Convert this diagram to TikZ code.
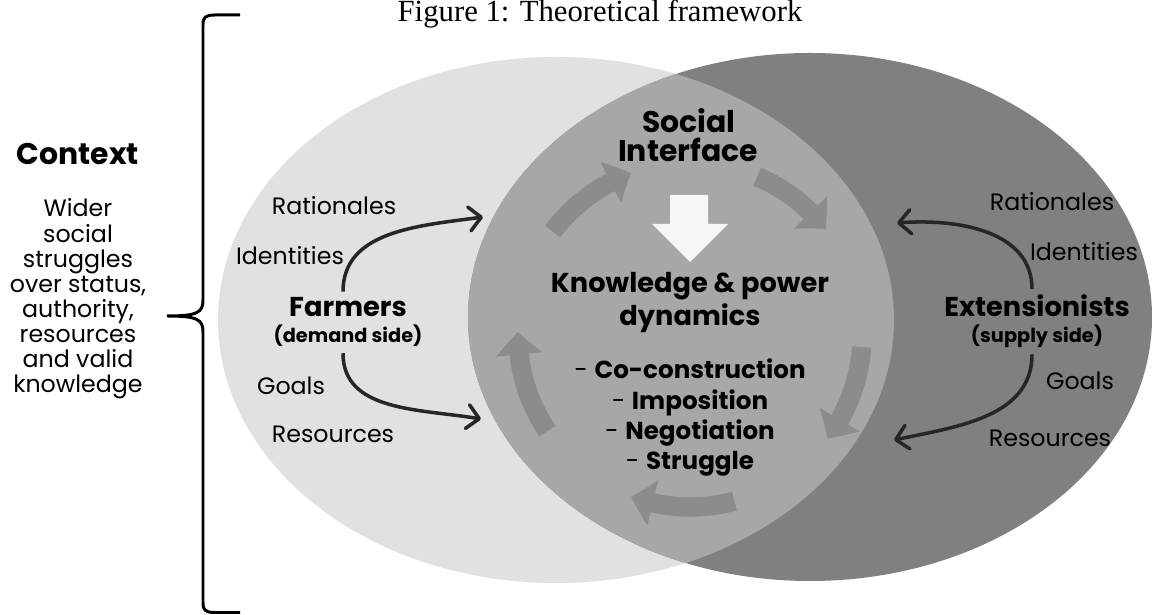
\documentclass[tikz,border=0pt]{standalone}
\usepackage{fontspec}
\setmainfont{Poppins}
\newfontfamily\captionfont{Liberation Serif}
\usepackage{tikz}
\usetikzlibrary{arrows.meta,bending,positioning,calc}
\definecolor{light}{HTML}{E1E1E1}
\definecolor{overlap}{HTML}{A7A7A7}
\definecolor{dark}{HTML}{808080}
\definecolor{cyclegray}{HTML}{8C8C8C}
\definecolor{offwhite}{HTML}{F7F7F7}
\definecolor{ink}{HTML}{262626}

\begin{document}
\begin{tikzpicture}[
 lbl/.style={font=\fontsize{13.5}{16}\selectfont,anchor=base},
 actor/.style={font=\bfseries\fontsize{15.5}{18}\selectfont,anchor=base},
 side/.style={font=\bfseries\fontsize{11}{13}\selectfont,anchor=base},
 head/.style={font=\bfseries\fontsize{17}{20}\selectfont,anchor=base},
 itm/.style={font=\fontsize{14}{17}\selectfont,anchor=base},
 desc/.style={font=\fontsize{13.5}{14.3}\selectfont,align=center,inner sep=0pt},
 arr/.style={-{Straight Barb[length=2.4mm,width=4.8mm,round]},line width=2pt,draw=ink},
 cyc/.style={line width=11pt,draw=cyclegray,-{Triangle[length=4.5mm,width=9mm,bend]}}
]
\useasboundingbox (0,0) rectangle (23.04,12.3);
\fill[white] (0,0) rectangle (23.04,12.3);

% the two sides and their overlap
\fill[light] (11.12,5.9) ellipse[x radius=6.76,y radius=5.26];
\fill[dark] (16.2,5.96) ellipse[x radius=6.84,y radius=5.28];
\begin{scope}
\clip (11.12,5.9) ellipse[x radius=6.76,y radius=5.26];
\fill[overlap] (16.2,5.96) ellipse[x radius=6.84,y radius=5.28];
\end{scope}

\node[font=\captionfont\fontsize{17.5}{20}\selectfont,anchor=base] (caption) at (12.0,11.86) {Figure 1: Theoretical framework};

% context brace
\draw[line width=1.7pt] (4.8,12.0) -- (4.3,12.0) .. controls (4.1,12.0) and (4.06,11.95) .. (4.06,11.8) -- (4.06,6.3)
 .. controls (4.06,6.05) and (3.95,5.98) .. (3.34,5.98) .. controls (3.95,5.98) and (4.06,5.91) .. (4.06,5.66)
 -- (4.06,0.25) .. controls (4.06,0.1) and (4.1,0.05) .. (4.3,0.05) -- (4.8,0.05);
\node[font=\bfseries\fontsize{17}{20}\selectfont,anchor=base] (context) at (1.56,9.0) {Context};
\node[desc,anchor=north] (wider) at (1.56,8.33) {Wider\\social\\struggles\\over status,\\authority,\\resources\\and valid\\knowledge};

% interface cycle
\coordinate (c) at (13.8,5.6);
\draw[cyc] ([shift={(143:3.44)}]c) arc[start angle=143,end angle=110,radius=3.44];
\draw[cyc] ([shift={(67:3.44)}]c) arc[start angle=67,end angle=38,radius=3.44];
\draw[cyc] ([shift={(-4:3.44)}]c) arc[start angle=-4,end angle=-37,radius=3.44];
\draw[cyc] ([shift={(-75:3.44)}]c) arc[start angle=-75,end angle=-110,radius=3.44];
\draw[cyc] ([shift={(214:3.44)}]c) arc[start angle=214,end angle=179,radius=3.44];
\fill[offwhite] (13.4,8.4) -- (14.16,8.4) -- (14.16,7.82) -- (14.56,7.82) -- (13.8,7.06) -- (13.04,7.82) -- (13.4,7.82) -- cycle;

\node[head] (social) at (13.78,9.64) {Social};
\node[head] (iface) at (13.76,9.06) {Interface};
\node[actor] (know) at (13.8,6.44) {Knowledge \& power};
\node[actor] (dyn) at (13.8,5.78) {dynamics};
\node[itm] (coc) at (13.8,4.72) {- \textbf{Co-construction}};
\node[itm] (imp) at (13.8,4.1) {- \textbf{Imposition}};
\node[itm] (neg) at (13.8,3.5) {- \textbf{Negotiation}};
\node[itm] (str) at (13.8,2.9) {- \textbf{Struggle}};

% farmers
\node[lbl] (frat) at (6.68,8.0) {Rationales};
\node[lbl] (fid) at (5.8,7.0) {Identities};
\node[actor] (farm) at (6.96,5.96) {Farmers};
\node[side] (dmd) at (6.96,5.44) {(demand side)};
\node[lbl] (fgoal) at (5.82,4.4) {Goals};
\node[lbl] (fres) at (6.66,3.44) {Resources};
\coordinate (fin) at (9.66,7.96);
\coordinate (fout) at (9.62,3.92);
\draw[arr] ([xshift=-1mm]farm.north) to[out=90,in=188] (fin);
\draw[arr] ([xshift=-1mm]dmd.south) to[out=270,in=170] (fout);

% extensionists
\node[lbl] (erat) at (21.04,8.08) {Rationales};
\node[lbl] (eid) at (21.68,7.08) {Identities};
\node[actor] (ext) at (20.74,5.96) {Extensionists};
\node[side] (sup) at (20.74,5.44) {(supply side)};
\node[lbl] (egoal) at (21.6,4.5) {Goals};
\node[lbl] (eres) at (21.0,3.36) {Resources};
\coordinate (ein) at (17.94,7.84);
\coordinate (eout) at (17.88,3.5);
\draw[arr] ([xshift=-1mm]ext.north) to[out=90,in=5] (ein);
\draw[arr] ([xshift=-1mm]sup.south) to[out=270,in=12] (eout);
\end{tikzpicture}
\end{document}
